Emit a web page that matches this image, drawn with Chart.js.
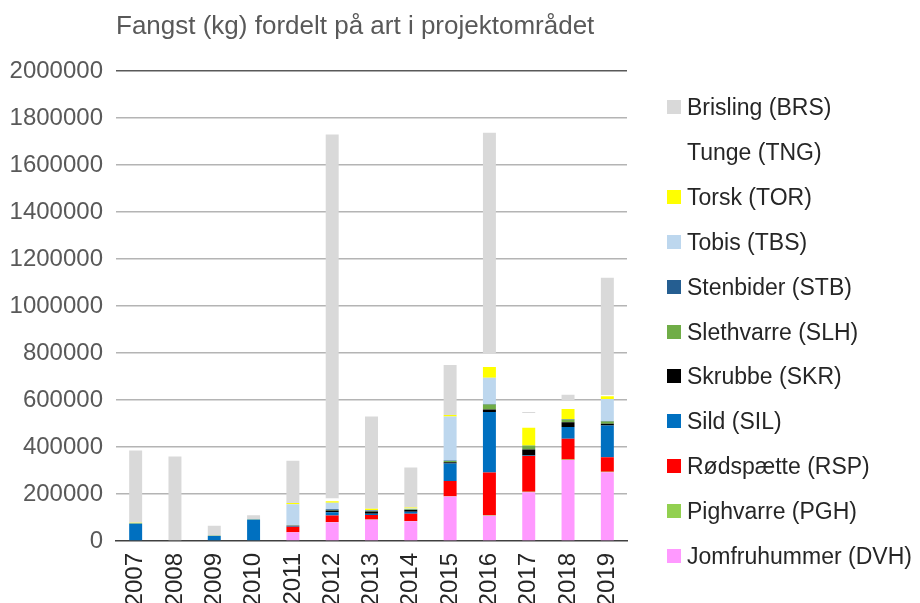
<!DOCTYPE html>
<html>
<head>
<meta charset="utf-8">
<title>Fangst (kg) fordelt på art i projektområdet</title>
<script src="https://cdn.jsdelivr.net/npm/chart.js@4.4.1/dist/chart.umd.min.js"></script>
<style>
  html, body { margin: 0; padding: 0; background: #ffffff; }
  #wrap { position: relative; width: 920px; height: 603px; }
  #legende {
    position: absolute; left: 667px; top: 0; margin: 0; padding: 0; list-style: none;
    font-family: 'Liberation Sans', Arial, sans-serif; font-size: 23px; color: #262626;
  }
  #legende li { position: absolute; left: 0; height: 26px; line-height: 26px; white-space: nowrap; }
  #legende span.boks { position: absolute; left: 0; top: 6px; width: 14px; height: 14px; }
  #legende span.tekst { position: absolute; left: 20px; top: 0; }
</style>
</head>
<body>
<div id="wrap">
  <canvas id="grafFangst" width="920" height="603"></canvas>
  <ul id="legende"></ul>
</div>
<script>
// --- Data (kg) ---
const aar = ["2007", "2008", "2009", "2010", "2011", "2012", "2013", "2014", "2015", "2016", "2017", "2018", "2019"];

const jomfruhummer = [0, 0, 0, 0, 37000, 80000, 90000, 84000, 189000, 108000, 208000, 345000, 293000];
const pighvarre    = [0, 0, 0, 0, 0, 1000, 1000, 1000, 2000, 2000, 2000, 2000, 2000];
const roedspaette  = [0, 0, 0, 0, 24000, 28000, 20000, 31000, 64000, 182000, 152000, 88000, 62000];
const sild         = [75000, 0, 22000, 92000, 3000, 13000, 5000, 9000, 75000, 257000, 2000, 50000, 135000];
const skrubbe      = [0, 0, 0, 0, 1000, 8000, 10000, 7000, 5000, 11000, 26000, 21000, 7000];
const slethvarre   = [0, 0, 0, 0, 1000, 2000, 2000, 2000, 6000, 21000, 17000, 10000, 10000];
const stenbider    = [0, 0, 0, 0, 0, 3000, 2000, 2000, 2000, 2000, 0, 2000, 2000];
const tobis        = [0, 0, 0, 0, 90000, 28000, 2000, 2000, 187000, 112000, 0, 0, 94000];
const torsk        = [3000, 3000, 1000, 1000, 6000, 6000, 5000, 5000, 6000, 46000, 75000, 44000, 11000];
const tunge        = [0, 0, 0, 0, 0, 12000, 0, 0, 0, 55000, 63000, 34000, 5000];
const brisling     = [307000, 357000, 42000, 17000, 180000, 1550000, 393000, 170000, 213000, 942000, 4000, 27000, 500000];

const yTicks = [0, 200000, 400000, 600000, 800000, 1000000, 1200000, 1400000, 1600000, 1800000, 2000000];

// --- Serier (nederst først) ---
const serier = [
  { label: "Jomfruhummer (DVH)", data: jomfruhummer, farve: "#FF99FF" },
  { label: "Pighvarre (PGH)",    data: pighvarre,    farve: "#92D050" },
  { label: "Rødspætte (RSP)",    data: roedspaette,  farve: "#FF0000" },
  { label: "Sild (SIL)",         data: sild,         farve: "#0070C0" },
  { label: "Skrubbe (SKR)",      data: skrubbe,      farve: "#000000" },
  { label: "Slethvarre (SLH)",   data: slethvarre,   farve: "#70AD47" },
  { label: "Stenbider (STB)",    data: stenbider,    farve: "#255E91" },
  { label: "Tobis (TBS)",        data: tobis,        farve: "#BDD7EE" },
  { label: "Torsk (TOR)",        data: torsk,        farve: "#FFFF00" },
  { label: "Tunge (TNG)",        data: tunge,        farve: "#FFFFFF" },
  { label: "Brisling (BRS)",     data: brisling,     farve: "#D9D9D9" }
];

const datasets = serier.map(s => ({
  label: s.label,
  data: s.data,
  backgroundColor: s.farve,
  borderWidth: 0,
  barPercentage: 0.33,
  categoryPercentage: 1.0
}));

Chart.defaults.font.family = "'Liberation Sans', Arial, sans-serif";

const ctx = document.getElementById("grafFangst").getContext("2d");

const graf = new Chart(ctx, {
  type: "bar",
  data: { labels: aar, datasets: datasets },
  options: {
    responsive: false,
    animation: false,
    layout: { padding: { right: 293 } },
    plugins: {
      tooltip: { enabled: false },
      legend: { display: false },
      title: {
        display: true,
        text: "Fangst (kg) fordelt på art i projektområdet",
        align: "start",
        fullSize: false,
        color: "#595959",
        font: { size: 26, weight: "normal" },
        padding: { top: 11, bottom: 29 }
      }
    },
    scales: {
      x: {
        stacked: true,
        grid: { display: false, drawTicks: false },
        border: { display: true, color: "#404040", width: 1.5 },
        ticks: {
          color: "#262626",
          font: { size: 24 },
          minRotation: 90,
          maxRotation: 90,
          autoSkip: false,
          padding: 12
        },
        afterFit: s => { s.height = 62; }
      },
      y: {
        stacked: true,
        min: 0,
        max: 2000000,
        afterBuildTicks: s => { s.ticks = yTicks.map(v => ({ value: v })); },
        grid: {
          drawTicks: false,
          lineWidth: 1.5,
          color: c => c.tick && c.tick.value === 2000000 ? "#595959" : (c.tick && c.tick.value === 0 ? "rgba(0,0,0,0)" : "#B4B4B4")
        },
        border: { display: false },
        ticks: {
          color: "#595959",
          font: { size: 24 },
          padding: 13,
          callback: v => String(v)
        },
        afterFit: s => { s.width = 116; }
      }
    }
  }
});

// --- Legende (øverst = øverste serie i stakken) ---
const legende = document.getElementById("legende");
graf.data.datasets.slice().reverse().forEach((ds, i) => {
  const li = document.createElement("li");
  li.style.top = (107 - 13 + i * 44.9) + "px";
  li.innerHTML = `<span class="boks" style="background:${ds.backgroundColor}"></span><span class="tekst">${ds.label}</span>`;
  legende.appendChild(li);
});
</script>
</body>
</html>
